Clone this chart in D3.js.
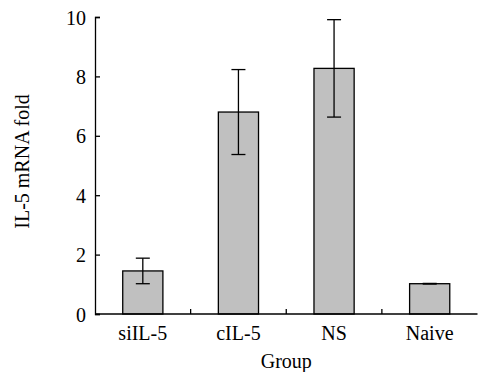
<!DOCTYPE html>
<html>
<head>
<meta charset="utf-8">
<script src="https://cdn.jsdelivr.net/npm/d3@7"></script>
<style>
  body { margin: 0; background: #fff; }
  text { font-family: "Liberation Serif", "Times New Roman", serif; fill: #000; }
</style>
</head>
<body>
<div id="chart"></div>
<script>
const groups = ['siIL-5', 'cIL-5', 'NS', 'Naive'];
const means = [1.45, 6.8, 8.27, 1.02];
const errors = [0.43, 1.43, 1.64, 0.01];
const yTicks = [0, 2, 4, 6, 8, 10];

const W = 478, H = 372;
const margin = {top: 17, right: 0, bottom: 58, left: 95};

const svg = d3.select('#chart').append('svg').attr('width', W).attr('height', H);
const g = svg.append('g').attr('transform', `translate(${margin.left},${margin.top})`);
const iw = W - margin.left - margin.right - 0.5;
const ih = H - margin.top - margin.bottom;

const x = d3.scaleBand().domain(groups).range([0, iw]);
const y = d3.scaleLinear().domain([0, 10]).range([ih, 0]);
const barW = x.bandwidth() * 0.42;

// bars
g.selectAll('.bar').data(groups).join('rect')
  .attr('x', d => x(d) + (x.bandwidth() - barW) / 2)
  .attr('y', (d, i) => y(means[i]))
  .attr('width', barW)
  .attr('height', (d, i) => y(0) - y(means[i]))
  .attr('fill', '#c0c0c0').attr('stroke', '#000').attr('stroke-width', 1.3);

// error bars
const capW = 14;
groups.forEach((d, i) => {
  const cx = x(d) + x.bandwidth() / 2;
  const lo = y(means[i] - errors[i]), hi = y(means[i] + errors[i]);
  const eb = g.append('g').attr('stroke', '#000').attr('stroke-width', 1.3);
  eb.append('line').attr('x1', cx).attr('x2', cx).attr('y1', lo).attr('y2', hi);
  eb.append('line').attr('x1', cx - capW / 2).attr('x2', cx + capW / 2).attr('y1', hi).attr('y2', hi);
  eb.append('line').attr('x1', cx - capW / 2).attr('x2', cx + capW / 2).attr('y1', lo).attr('y2', lo);
});

// y axis
const yAxis = g.append('g').call(d3.axisLeft(y).tickValues(yTicks).tickSize(-5).tickPadding(9));
yAxis.select('.domain').attr('stroke-width', 1.3);
yAxis.selectAll('.tick line').attr('stroke-width', 1.3);
yAxis.selectAll('text').style('font-size', '20px').attr('dy', '0.35em');

// x axis
const xAxis = g.append('g').attr('transform', `translate(0,${ih})`);
xAxis.append('line').attr('x1', 0).attr('x2', iw).attr('y1', 0).attr('y2', 0)
  .attr('stroke', '#000').attr('stroke-width', 1.5);
xAxis.selectAll('.sep').data(groups.slice(1)).join('line')
  .attr('x1', d => x(d)).attr('x2', d => x(d)).attr('y1', 0).attr('y2', -5)
  .attr('stroke', '#000').attr('stroke-width', 1.3);
xAxis.selectAll('.lab').data(groups).join('text')
  .attr('x', d => x(d) + x.bandwidth() / 2).attr('y', 26)
  .attr('text-anchor', 'middle').style('font-size', '20px').text(d => d);

g.append('text').attr('x', iw / 2).attr('y', ih + 54)
  .attr('text-anchor', 'middle').style('font-size', '20px').text('Group');

g.append('text')
  .attr('transform', `translate(${22 - margin.left},${ih / 2 - 4}) rotate(-90)`)
  .attr('dy', '0.35em')
  .attr('text-anchor', 'middle').style('font-size', '20px').text('IL-5 mRNA fold');
</script>
</body>
</html>
